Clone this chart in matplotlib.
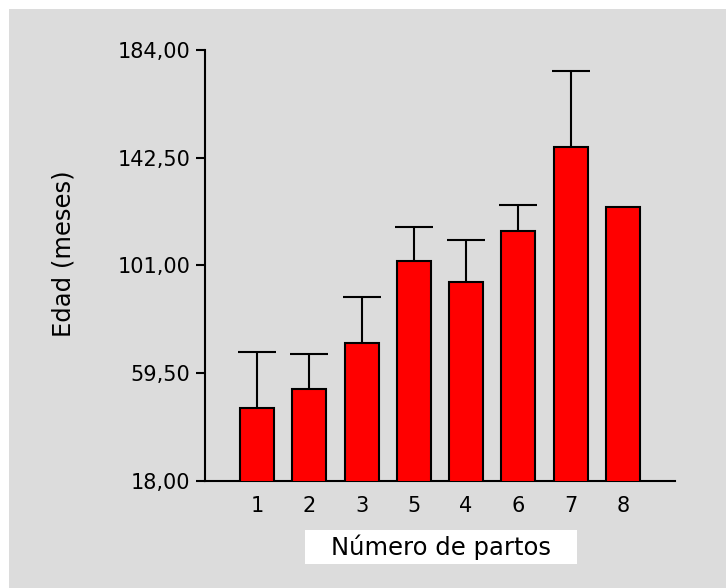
import numpy as np
import matplotlib.pyplot as plt
from matplotlib.patches import Rectangle

# Edad media (meses) por número de partos
partos = ["1", "2", "3", "5", "4", "6", "7", "8"]
edad_media = [46.1, 53.6, 71.2, 102.7, 94.5, 114.2, 146.7, 123.5]
edad_error = [21.6, 13.3, 17.6, 13.3, 16.5, 10.0, 29.1, 0.0]
y_ticks = [18.0, 59.5, 101.0, 142.5, 184.0]

plt.rcParams['font.family'] = ['DejaVu Sans']

W, H = 726, 588
fig = plt.figure(figsize=(W / 100, H / 100), dpi=100, facecolor="white")

# fondo gris del panel
fig.patches.append(Rectangle((9 / W, 0), 1 - 9 / W, 1 - 9 / H, transform=fig.transFigure,
                             facecolor="#dcdcdc", edgecolor="none", zorder=-10))

ax = fig.add_axes([205 / W, 107 / H, 470 / W, 431 / H])
ax.set_facecolor("none")

x = np.arange(len(partos))
media = np.array(edad_media)
err = np.array(edad_error)

ax.bar(x, media, width=0.65, color="#ff0000", edgecolor="black", linewidth=1.5, zorder=3)

# solo la barra de error superior
m = err > 0
eb = ax.errorbar(x[m], media[m], yerr=[np.zeros(m.sum()), err[m]], fmt="none",
                 ecolor="black", elinewidth=1.5, capsize=13.7, capthick=1.5, zorder=2)
eb.lines[1][0].set_visible(False)

ax.set_xlim(-1, 8)
ax.set_ylim(18, 184)
ax.set_xticks(x)
ax.set_xticklabels(partos)
ax.set_yticks(y_ticks)
ax.set_yticklabels([f"{v:.2f}".replace(".", ",") for v in y_ticks])

ax.tick_params(axis="y", length=6.5, width=1.5, pad=4, labelsize=15)
ax.tick_params(axis="x", length=0, pad=11, labelsize=15)

for s in ["top", "right"]:
    ax.spines[s].set_visible(False)
for s in ["left", "bottom"]:
    ax.spines[s].set_linewidth(1.5)

fig.text(64 / W, 1 - 254 / H, "Edad (meses)", rotation=90, ha="center", va="center", fontsize=17.5)

# recuadro blanco del título del eje x
fig.patches.append(Rectangle((305 / W, 1 - 564 / H), 272 / W, 34 / H, transform=fig.transFigure,
                             facecolor="white", edgecolor="none", zorder=-5))
fig.text(441 / W, 1 - 547 / H, "Número de partos", ha="center", va="center", fontsize=17.5)

fig.savefig("out.png", dpi=100)
